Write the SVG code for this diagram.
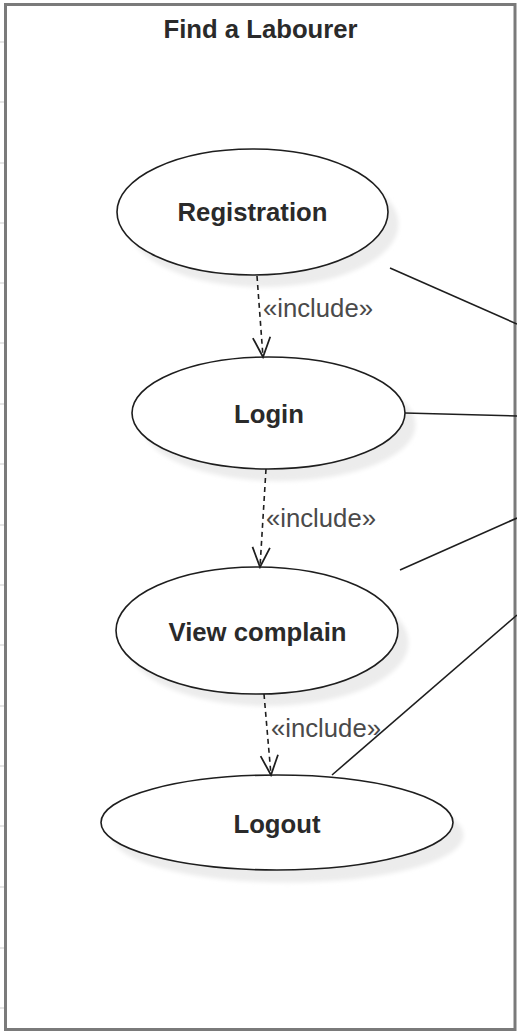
<svg xmlns="http://www.w3.org/2000/svg" width="517" height="1032" viewBox="0 0 517 1032">
  <style>
    .frame { fill: #ffffff; stroke: #7a7a7a; stroke-width: 3; }
    .tick { stroke: #dddddd; stroke-width: 1.5; }
    .uc { fill: #ffffff; stroke: #1e1e1e; stroke-width: 1.6; }
    .shadow { fill: #ececec; filter: url(#soft); }
    .label { font-family: "Liberation Sans", Arial, sans-serif; font-size: 25.7px; font-weight: bold; fill: #2a2a2a; text-anchor: middle; }
    .title { font-family: "Liberation Sans", Arial, sans-serif; font-size: 25.7px; font-weight: bold; fill: #2a2a2a; text-anchor: middle; }
    .stereo { font-family: "Liberation Sans", Arial, sans-serif; font-size: 25.7px; fill: #4a4a4a; }
    .include { fill: none; stroke: #1e1e1e; stroke-width: 1.6; stroke-dasharray: 5 4; marker-end: url(#openArrow); }
    .assoc { fill: none; stroke: #1e1e1e; stroke-width: 1.6; }
  </style>
  <defs>
    <filter id="soft" x="-10%" y="-10%" width="120%" height="120%">
      <feGaussianBlur stdDeviation="2"/>
    </filter>
    <marker id="openArrow" markerUnits="userSpaceOnUse" markerWidth="24" markerHeight="24" viewBox="-20 -10 22 20" refX="0" refY="0" orient="auto">
      <path d="M -18 -8 L 0 0 L -18 8" fill="none" stroke="#1e1e1e" stroke-width="1.6"/>
    </marker>
  </defs>

  <!-- system boundary -->
  <g id="system">
    <rect class="frame" x="5.5" y="4.5" width="509.5" height="1025"/>
    <text class="title" x="260.5" y="38">Find a Labourer</text>
  </g>

  <!-- grid remnants along the left margin -->
  <g id="ticks">
    <line class="tick" x1="0" y1="42" x2="4" y2="42"/>
    <line class="tick" x1="0" y1="102" x2="4" y2="102"/>
    <line class="tick" x1="0" y1="163" x2="4" y2="163"/>
    <line class="tick" x1="0" y1="223" x2="4" y2="223"/>
    <line class="tick" x1="0" y1="283" x2="4" y2="283"/>
    <line class="tick" x1="0" y1="343" x2="4" y2="343"/>
    <line class="tick" x1="0" y1="404" x2="4" y2="404"/>
    <line class="tick" x1="0" y1="464" x2="4" y2="464"/>
    <line class="tick" x1="0" y1="525" x2="4" y2="525"/>
    <line class="tick" x1="0" y1="585" x2="4" y2="585"/>
    <line class="tick" x1="0" y1="645" x2="4" y2="645"/>
    <line class="tick" x1="0" y1="706" x2="4" y2="706"/>
    <line class="tick" x1="0" y1="766" x2="4" y2="766"/>
    <line class="tick" x1="0" y1="826" x2="4" y2="826"/>
    <line class="tick" x1="0" y1="887" x2="4" y2="887"/>
    <line class="tick" x1="0" y1="948" x2="4" y2="948"/>
    <line class="tick" x1="0" y1="1008" x2="4" y2="1008"/>
  </g>

  <!-- use cases -->
  <g id="registration">
    <ellipse class="shadow" cx="263" cy="224" rx="135.5" ry="63"/>
    <ellipse class="uc" cx="252.5" cy="212" rx="135.5" ry="63"/>
    <text class="label" x="252.5" y="221">Registration</text>
  </g>
  <g id="login">
    <ellipse class="shadow" cx="279" cy="425" rx="136.5" ry="56"/>
    <ellipse class="uc" cx="268.5" cy="413" rx="136.5" ry="56"/>
    <text class="label" x="269" y="422.5">Login</text>
  </g>
  <g id="view-complain">
    <ellipse class="shadow" cx="267.5" cy="642.5" rx="141" ry="63.5"/>
    <ellipse class="uc" cx="257" cy="630.5" rx="141" ry="63.5"/>
    <text class="label" x="257.5" y="640.5">View complain</text>
  </g>
  <g id="logout">
    <ellipse class="shadow" cx="287.5" cy="835" rx="176" ry="47.5"/>
    <ellipse class="uc" cx="277" cy="822.5" rx="176" ry="47.5"/>
    <text class="label" x="277" y="832.5">Logout</text>
  </g>

  <!-- include relations and actor associations -->
  <g id="connectors">
    <line class="include" x1="257" y1="276" x2="263" y2="357"/>
    <text class="stereo" x="263" y="316.5">«include»</text>
    <line class="include" x1="266" y1="469" x2="260" y2="567"/>
    <text class="stereo" x="266" y="526.5">«include»</text>
    <line class="include" x1="264" y1="694" x2="271" y2="775"/>
    <text class="stereo" x="271" y="736.5">«include»</text>

    <line class="assoc" x1="390" y1="268" x2="517" y2="324"/>
    <line class="assoc" x1="405" y1="413" x2="517" y2="416"/>
    <line class="assoc" x1="400" y1="570" x2="517" y2="518"/>
    <line class="assoc" x1="332" y1="775" x2="517" y2="615"/>
  </g>
</svg>
